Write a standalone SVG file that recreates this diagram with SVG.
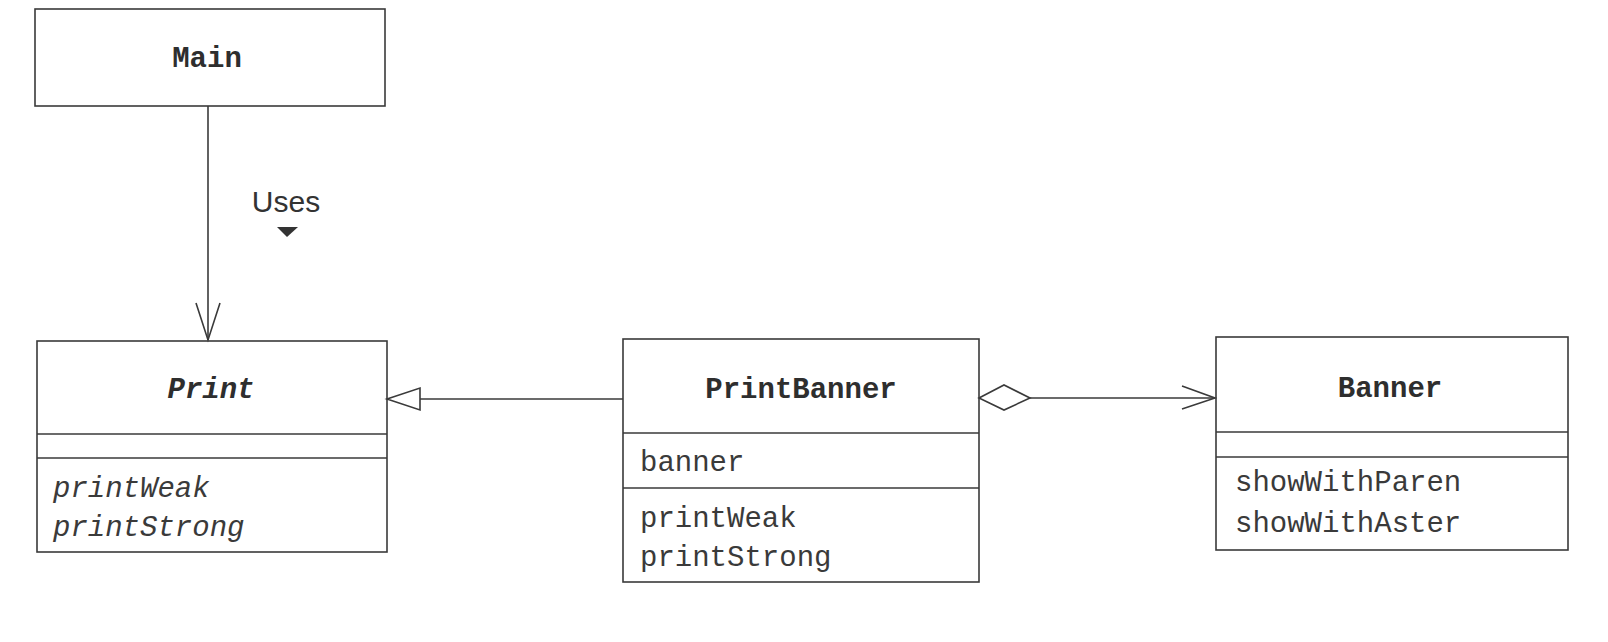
<svg xmlns="http://www.w3.org/2000/svg" width="1608" height="642" viewBox="0 0 1608 642">
<style>
.box{fill:#fff;stroke:#3a3a3a;stroke-width:1.6}
.ln{stroke:#3a3a3a;stroke-width:1.6;fill:none}
.title{font-family:"Liberation Mono",monospace;font-weight:bold;font-size:29px;fill:#2e2e2e;text-anchor:middle}
.mem{font-family:"Liberation Mono",monospace;font-size:29px;fill:#3a3a3a}
.it{font-style:italic}
.lbl{font-family:"Liberation Sans",Arial,sans-serif;font-size:30px;fill:#333;text-anchor:middle}
</style>
<rect width="1608" height="642" fill="#fff"/>
<g id="Main">
<rect class="box" x="35" y="9" width="350" height="97"/>
<text class="title" x="207" y="67">Main</text>
</g>
<g id="Print">
<rect class="box" x="37" y="341" width="350" height="211"/>
<line class="ln" x1="37" y1="434" x2="387" y2="434"/>
<line class="ln" x1="37" y1="458" x2="387" y2="458"/>
<text class="title it" x="211" y="398">Print</text>
<text class="mem it" x="53" y="497">printWeak</text>
<text class="mem it" x="53" y="536">printStrong</text>
</g>
<g id="PrintBanner">
<rect class="box" x="623" y="339" width="356" height="243"/>
<line class="ln" x1="623" y1="433" x2="979" y2="433"/>
<line class="ln" x1="623" y1="488" x2="979" y2="488"/>
<text class="title" x="801" y="398">PrintBanner</text>
<text class="mem" x="640" y="471">banner</text>
<text class="mem" x="640" y="527">printWeak</text>
<text class="mem" x="640" y="566">printStrong</text>
</g>
<g id="Banner">
<rect class="box" x="1216" y="337" width="352" height="213"/>
<line class="ln" x1="1216" y1="432" x2="1568" y2="432"/>
<line class="ln" x1="1216" y1="457" x2="1568" y2="457"/>
<text class="title" x="1390" y="397">Banner</text>
<text class="mem" x="1235" y="491">showWithParen</text>
<text class="mem" x="1235" y="532">showWithAster</text>
</g>
<g id="connectors">
<line class="ln" x1="208" y1="106" x2="208" y2="340"/>
<polyline class="ln" points="196,303 208,340 220,303"/>
<text class="lbl" x="286" y="212">Uses</text>
<polygon points="277,227 298,227 287,237" fill="#333"/>
<line class="ln" x1="420" y1="399" x2="623" y2="399"/>
<polygon class="ln" points="387,399 420,388 420,410" fill="#fff"/>
<polygon class="ln" points="979,398 1004,385 1030,398 1004,410" fill="#fff"/>
<line class="ln" x1="1030" y1="398" x2="1215" y2="398"/>
<polyline class="ln" points="1182,386 1215,398 1182,409"/>
</g>
</svg>
